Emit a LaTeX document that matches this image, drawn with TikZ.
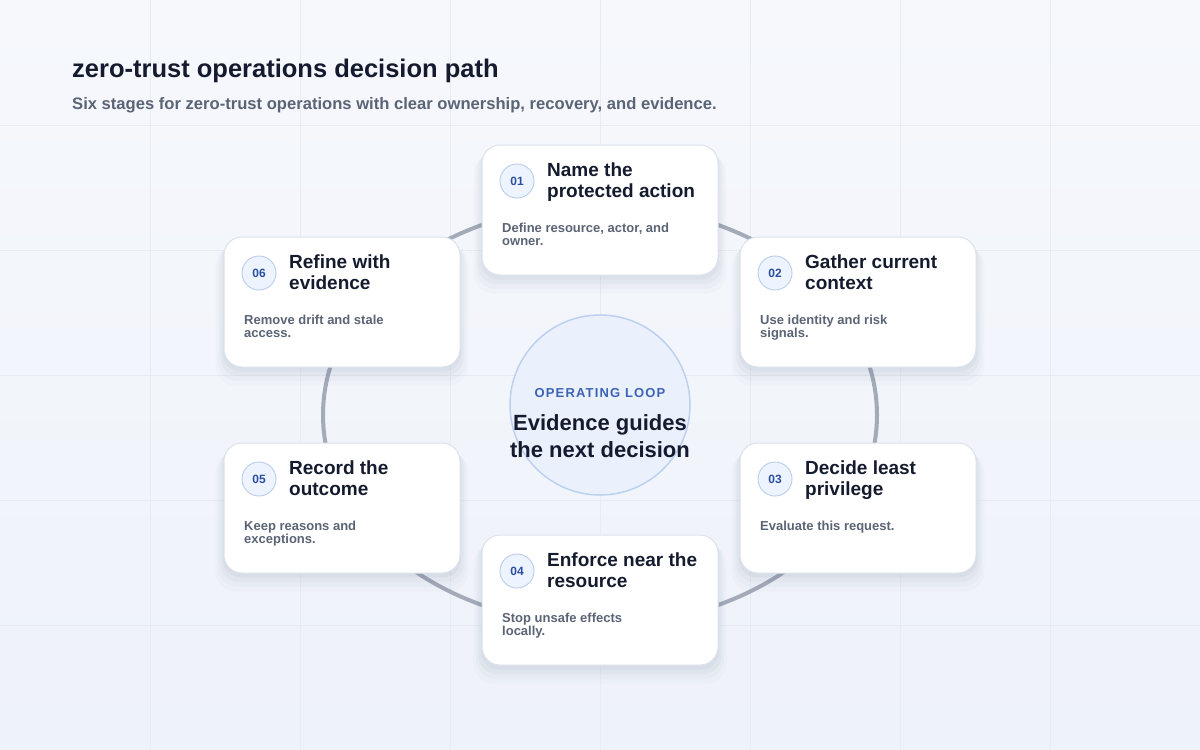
\documentclass[tikz,border=0pt]{standalone}
\usepackage{fontspec}
\setmainfont{Liberation Sans}
\newfontfamily\loopfont[LetterSpace=9]{Liberation Sans}
\usepackage{tikz}
\usetikzlibrary{shapes,positioning,shadows}
\usepackage{xcolor}
\definecolor{ztop}{HTML}{F6F8FC}
\definecolor{zbottom}{HTML}{EEF2F9}
\definecolor{zgrid}{HTML}{E7ECF3}
\definecolor{zink}{HTML}{151B2E}
\definecolor{zmuted}{HTML}{5B6475}
\definecolor{zcardline}{HTML}{DCE2EC}
\definecolor{zbadgefill}{HTML}{EEF4FF}
\definecolor{zbadgeline}{HTML}{BFD0EE}
\definecolor{zbadgetext}{HTML}{2B4FA0}
\definecolor{zring}{HTML}{A4ABB8}
\definecolor{zhubfill}{HTML}{EAF1FC}
\definecolor{zhubline}{HTML}{BCD0F0}
\definecolor{zloop}{HTML}{3D64B4}
\definecolor{zshadow}{HTML}{3A4A6B}
\tikzstyle{gridline} = [color=zgrid, line width=1pt]
\tikzstyle{ring} = [color=zring, line width=4pt]
\tikzstyle{hub} = [circle, minimum size=180pt, inner sep=0pt, draw=zhubline, line width=1.5pt, fill=zhubfill]
\tikzstyle{stagecard} = [rectangle, rounded corners=18pt, minimum width=236pt, minimum height=130pt, draw=zcardline, line width=1pt, fill=white,
    drop shadow={shadow xshift=0pt, shadow yshift=-13pt, shadow scale=1.07, opacity=0.018, fill=zshadow},
    drop shadow={shadow xshift=0pt, shadow yshift=-10pt, shadow scale=1.05, opacity=0.025, fill=zshadow},
    drop shadow={shadow xshift=0pt, shadow yshift=-7pt, shadow scale=1.03, opacity=0.035, fill=zshadow},
    drop shadow={shadow xshift=0pt, shadow yshift=-4pt, shadow scale=1.01, opacity=0.045, fill=zshadow}]
\tikzstyle{badge} = [circle, minimum size=34pt, inner sep=0pt, draw=zbadgeline, line width=1pt, fill=zbadgefill, text=zbadgetext, font=\fontsize{12}{14}\selectfont\bfseries]
\tikzstyle{stagetitle} = [anchor=base west, inner sep=0pt, align=left, text=zink, font=\fontsize{19}{21}\selectfont\bfseries]
\tikzstyle{stagenote} = [anchor=base west, inner sep=0pt, align=left, text=zmuted, font=\fontsize{13}{13}\selectfont\bfseries]

\begin{document}
\begin{tikzpicture}[x=1pt, y=-1pt]
    % Background and grid
    \shade[top color=ztop, bottom color=zbottom] (0,0) rectangle (1200,750);
    \useasboundingbox (0,0) rectangle (1200,750);
    \foreach \gx in {150,300,...,1050} \draw[gridline] (\gx,0) -- (\gx,750);
    \foreach \gy in {125,250,...,625} \draw[gridline] (0,\gy) -- (1200,\gy);

    % Heading
    \node[anchor=base west, inner sep=0pt, text=zink, font=\fontsize{25.5}{30}\selectfont\bfseries] (heading) at (72,77) {zero-trust operations decision path};
    \node[anchor=base west, inner sep=0pt, text=zmuted, font=\fontsize{16.6}{20}\selectfont\bfseries] (subheading) at (72,109) {Six stages for zero-trust operations with clear ownership, recovery, and evidence.};

    % Loop and hub
    \draw[ring] (600,415) ellipse [x radius=277, y radius=210];
    \node[hub] (hub) at (600,405) {};
    \node[anchor=base, inner sep=0pt, text=zloop, font=\fontsize{13}{15}\loopfont\bfseries] (looptag) at (600,397) {OPERATING LOOP};
    \node[anchor=base, inner sep=0pt, align=center, text=zink, font=\fontsize{22}{27}\selectfont\bfseries] (hubtext) at (600,457) {Evidence guides\\the next decision};

    % Stage cards
    \node[stagecard] (name) at (600,210) {};
    \node[stagecard] (gather) at (858,302) {};
    \node[stagecard] (decide) at (858,508) {};
    \node[stagecard] (enforce) at (600,600) {};
    \node[stagecard] (record) at (342,508) {};
    \node[stagecard] (refine) at (342,302) {};

    % Badges
    \node[badge] (b1) at (517,181) {01};
    \node[badge] (b2) at (775,273) {02};
    \node[badge] (b3) at (775,479) {03};
    \node[badge] (b4) at (517,571) {04};
    \node[badge] (b5) at (259,479) {05};
    \node[badge] (b6) at (259,273) {06};

    % Titles (base = last line)
    \node[stagetitle] (t1) at (547,197) {Name the\\protected action};
    \node[stagetitle] (t2) at (805,289) {Gather current\\context};
    \node[stagetitle] (t3) at (805,495) {Decide least\\privilege};
    \node[stagetitle] (t4) at (547,587) {Enforce near the\\resource};
    \node[stagetitle] (t5) at (289,495) {Record the\\outcome};
    \node[stagetitle] (t6) at (289,289) {Refine with\\evidence};

    % Notes
    \node[stagenote] (n1) at (502,245) {Define resource, actor, and\\owner.};
    \node[stagenote] (n2) at (760,337) {Use identity and risk\\signals.};
    \node[stagenote] (n3) at (760,530) {Evaluate this request.};
    \node[stagenote] (n4) at (502,635) {Stop unsafe effects\\locally.};
    \node[stagenote] (n5) at (244,543) {Keep reasons and\\exceptions.};
    \node[stagenote] (n6) at (244,337) {Remove drift and stale\\access.};
\end{tikzpicture}
\end{document}
